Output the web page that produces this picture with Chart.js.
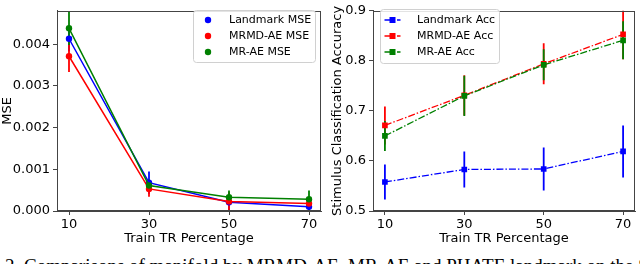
<!DOCTYPE html>
<html>
<head>
<meta charset="utf-8">
<script src="https://cdn.jsdelivr.net/npm/chart.js@4.4.0/dist/chart.umd.min.js"></script>
<style>
  body { margin: 0; background: #fff; }
  #page { position: relative; width: 640px; height: 264px; overflow: hidden; background: #fff; }
  #mseBox { position: absolute; left: 0; top: 0; width: 325px; height: 250px; }
  #accBox { position: absolute; left: 323px; top: 0; width: 317px; height: 250px; }
  #caption { position: absolute; left: 5px; top: 255px; font-family: "Liberation Serif"; font-size: 19px; line-height: 22px; white-space: nowrap; color: #000; }
</style>
</head>
<body>
<div id="page">
  <div id="mseBox"><canvas id="mseChart" width="325" height="250"></canvas></div>
  <div id="accBox"><canvas id="accChart" width="317" height="250"></canvas></div>
  <div id="caption">2. Comparisons of manifold by MRMD-AE, MR-AE and PHATE landmark on the Sherlock dataset.</div>
</div>
<script>
// x values (train TR percentage)
var trainPct = [10, 30, 50, 70];

// left panel: MSE
var mseTicks = [0, 0.001, 0.002, 0.003, 0.004];
var landmarkMse = [0.00413, 0.00068, 0.00021, 0.00010];
var landmarkMseErr = [0.00030, 0.00027, 0.00019, 0.00008];
var mrmdMse = [0.00371, 0.00053, 0.00023, 0.00018];
var mrmdMseErr = [0.00038, 0.00019, 0.00022, 0.00006];
var mraeMse = [0.00438, 0.00061, 0.00033, 0.00028];
var mraeMseErr = [0.00040, 0.00015, 0.00016, 0.00021];

// right panel: accuracy
var accTicks = [0.5, 0.6, 0.7, 0.8, 0.9];
var landmarkAcc = [0.558, 0.583, 0.584, 0.619];
var landmarkAccErr = [0.035, 0.036, 0.043, 0.052];
var mrmdAcc = [0.671, 0.731, 0.794, 0.853];
var mrmdAccErr = [0.038, 0.040, 0.041, 0.050];
var mraeAcc = [0.650, 0.730, 0.792, 0.841];
var mraeAccErr = [0.030, 0.040, 0.031, 0.038];

var BLUE = '#0000ff', RED = '#ff0000', GREEN = '#008000';

Chart.defaults.font.family = 'DejaVu Sans';
Chart.defaults.color = '#000';

var toPoints = function(vals) {
  return trainPct.map(function(x, i) { return { x: x, y: vals[i] }; });
};

// vertical error bars, drawn under the lines
var errorBars = {
  id: 'errorBars',
  beforeDatasetsDraw: function(chart) {
    var ctx = chart.ctx, area = chart.chartArea;
    var xs = chart.scales.x, ys = chart.scales.y;
    ctx.save();
    ctx.beginPath();
    ctx.rect(area.left, area.top, area.right - area.left, area.bottom - area.top);
    ctx.clip();
    chart.data.datasets.forEach(function(ds) {
      ctx.strokeStyle = ds.borderColor;
      ctx.lineWidth = 1.8;
      ds.data.forEach(function(p, i) {
        var px = xs.getPixelForValue(p.x);
        ctx.beginPath();
        ctx.moveTo(px, ys.getPixelForValue(p.y - ds.errors[i]));
        ctx.lineTo(px, ys.getPixelForValue(p.y + ds.errors[i]));
        ctx.stroke();
      });
    });
    ctx.restore();
  }
};

// full box around plot area
var frame = {
  id: 'frame',
  afterDraw: function(chart) {
    var ctx = chart.ctx, a = chart.chartArea;
    ctx.save();
    ctx.strokeStyle = '#444';
    ctx.lineWidth = 1;
    ctx.strokeRect(Math.round(a.left) + 0.5, Math.round(a.top) + 0.5,
      Math.round(a.right - a.left) - 1, Math.round(a.bottom - a.top) - 1);
    ctx.restore();
  }
};

// legend inside the axes, matplotlib style
var insideLegend = {
  id: 'insideLegend',
  afterDraw: function(chart, args, opts) {
    var ctx = chart.ctx;
    ctx.save();
    ctx.beginPath();
    ctx.roundRect(opts.x, opts.y, opts.w, opts.h, 3);
    ctx.fillStyle = 'rgba(255,255,255,0.85)';
    ctx.fill();
    ctx.strokeStyle = '#d0d0d0';
    ctx.lineWidth = 1;
    ctx.stroke();
    ctx.font = '11px "DejaVu Sans"';
    ctx.textBaseline = 'middle';
    chart.data.datasets.forEach(function(ds, i) {
      var y = opts.rowY[i];
      ctx.fillStyle = ds.borderColor;
      ctx.strokeStyle = ds.borderColor;
      if (opts.line) {
        ctx.lineWidth = 1.3;
        ctx.setLineDash(ds.borderDash || []);
        ctx.beginPath();
        ctx.moveTo(opts.markerX - 8, y);
        ctx.lineTo(opts.markerX + 8, y);
        ctx.stroke();
        ctx.setLineDash([]);
      }
      ctx.beginPath();
      if (ds.pointStyle === 'rect') {
        ctx.rect(opts.markerX - 3, y - 3, 6, 6);
      } else {
        ctx.arc(opts.markerX, y, 3.2, 0, Math.PI * 2);
      }
      ctx.fill();
      ctx.fillStyle = '#000';
      ctx.fillText(ds.label, opts.textX, y);
    });
    ctx.restore();
  }
};

var xAxis = function() {
  return {
    type: 'linear',
    min: 7,
    max: 73,
    afterBuildTicks: function(scale) {
      scale.ticks = trainPct.map(function(v) { return { value: v }; });
    },
    afterFit: function(scale) { scale.height = 39; },
    ticks: { font: { size: 13 }, color: '#000', padding: 2, maxRotation: 0 },
    grid: { drawOnChartArea: false, tickLength: 4, color: '#444' },
    border: { display: true, color: '#444' },
    title: { display: true, text: 'Train TR Percentage', font: { size: 13 }, color: '#000', padding: { top: 0, bottom: 4 } }
  };
};

var lineDs = function(label, vals, errs, color, order, dashed) {
  return {
    label: label,
    data: toPoints(vals),
    errors: errs,
    borderColor: color,
    backgroundColor: color,
    borderWidth: dashed ? 1.3 : 1.5,
    borderDash: dashed ? [7, 2, 1.5, 2] : [],
    pointStyle: dashed ? 'rect' : 'circle',
    pointRadius: dashed ? 4 : 3.2,
    pointBorderWidth: 0,
    tension: 0,
    order: order
  };
};

new Chart(document.getElementById('mseChart'), {
  type: 'line',
  data: {
    datasets: [
      lineDs('Landmark MSE', landmarkMse, landmarkMseErr, BLUE, 2, false),
      lineDs('MRMD-AE MSE', mrmdMse, mrmdMseErr, RED, 1, false),
      lineDs('MR-AE MSE', mraeMse, mraeMseErr, GREEN, 0, false)
    ]
  },
  options: {
    responsive: false,
    animation: false,
    layout: { padding: { top: 5, right: 4, left: 0, bottom: 0 } },
    plugins: {
      legend: { display: false },
      tooltip: { enabled: false },
      insideLegend: { x: 193.5, y: 10.5, w: 122, h: 52, markerX: 208, textX: 229, rowY: [20, 36, 52], line: false }
    },
    scales: {
      x: xAxis(),
      y: {
        type: 'linear',
        min: 0,
        max: 0.0048,
        afterBuildTicks: function(scale) {
          scale.ticks = mseTicks.map(function(v) { return { value: v }; });
        },
        afterFit: function(scale) { scale.width = 57; },
        ticks: { font: { size: 13 }, color: '#000', padding: 3, callback: function(v) { return v.toFixed(3); } },
        grid: { drawOnChartArea: false, tickLength: 4, color: '#444' },
        border: { display: true, color: '#444' },
        title: { display: true, text: 'MSE', font: { size: 13 }, color: '#000', padding: { top: 0, bottom: 0 } }
      }
    }
  },
  plugins: [errorBars, frame, insideLegend]
});

new Chart(document.getElementById('accChart'), {
  type: 'line',
  data: {
    datasets: [
      lineDs('Landmark Acc', landmarkAcc, landmarkAccErr, BLUE, 2, true),
      lineDs('MRMD-AE Acc', mrmdAcc, mrmdAccErr, RED, 1, true),
      lineDs('MR-AE Acc', mraeAcc, mraeAccErr, GREEN, 0, true)
    ]
  },
  options: {
    responsive: false,
    animation: false,
    layout: { padding: { top: 5, right: 5, left: 0, bottom: 0 } },
    plugins: {
      legend: { display: false },
      tooltip: { enabled: false },
      insideLegend: { x: 57.5, y: 9.5, w: 119, h: 54, markerX: 69.5, textX: 94, rowY: [20, 36, 52], line: true }
    },
    scales: {
      x: xAxis(),
      y: {
        type: 'linear',
        min: 0.5,
        max: 0.9,
        afterBuildTicks: function(scale) {
          scale.ticks = accTicks.map(function(v) { return { value: v }; });
        },
        afterFit: function(scale) { scale.width = 50; },
        ticks: { font: { size: 13 }, color: '#000', padding: 3, callback: function(v) { return v.toFixed(1); } },
        grid: { drawOnChartArea: false, tickLength: 4, color: '#444' },
        border: { display: true, color: '#444' },
        title: { display: true, text: 'Stimulus Classification Accuracy', font: { size: 13 }, color: '#000', padding: { top: 7, bottom: 0 } }
      }
    }
  },
  plugins: [errorBars, frame, insideLegend]
});
</script>
</body>
</html>
